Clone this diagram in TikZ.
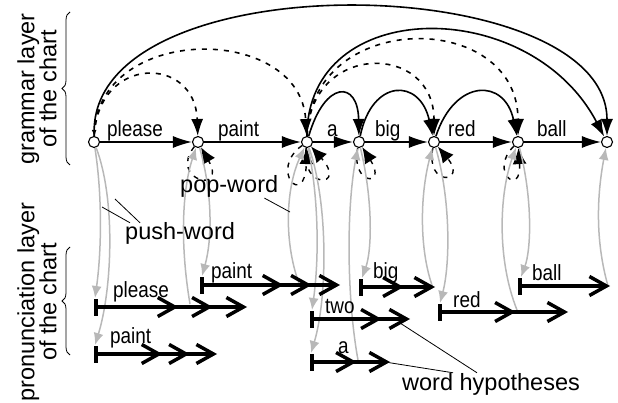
\documentclass[tikz,border=0pt]{standalone}
\usepackage{fontspec}
\setmainfont{Liberation Sans}
\newfontfamily\narrowsans[FakeStretch=0.86]{Liberation Sans}
\usetikzlibrary{arrows.meta, decorations.pathreplacing}
\usetikzlibrary{positioning}

\tikzset{chev/.tip={Straight Barb[length=17pt,width=19pt,line width=3.5pt]}}

\begin{document}
\begin{tikzpicture}[x=1pt, y=-1pt,
		gstate/.style={circle, draw, fill=white, line width=1.1pt, inner sep=0pt, minimum size=11pt},
		gedge/.style={line width=1.4pt, -{Latex[length=19pt,width=12pt]}},
		garc/.style={line width=1.6pt, -{Latex[length=17pt,width=12pt]}},
		garcd/.style={garc, dash pattern=on 5pt off 6pt},
		popword/.style={line width=1.4pt, dash pattern=on 5pt off 6pt, -{Latex[length=16pt,width=14pt]}},
		pushword/.style={black!28, line width=1.5pt, -{Latex[length=12pt,width=10pt]}},
		hypone/.style={line width=4pt, {Bar[width=17pt,line width=3.5pt]}-{chev}},
		hyptwo/.style={line width=4pt, {Bar[width=17pt,line width=3.5pt]}-{chev[sep=#1]chev}},
		hypthree/.style={line width=4pt, {Bar[width=17pt,line width=3.5pt]}-{chev[sep=#1]chev[sep=#1]chev}},
		wlabel/.style={font=\narrowsans\fontsize{22}{24}\selectfont, inner sep=0pt, anchor=base west},
		annot/.style={font=\fontsize{23.5}{22}\selectfont, inner sep=0pt},
		leader/.style={line width=0.8pt},
	]
	\useasboundingbox (0,0) rectangle (618,403);

	% grammar layer
	\node[gstate] (g1) at (94,142) {};
	\node[gstate] (g2) at (198,142) {};
	\node[gstate] (g3) at (307,142) {};
	\node[gstate] (g4) at (359,142) {};
	\node[gstate] (g5) at (434,142) {};
	\node[gstate] (g6) at (518,142) {};
	\node[gstate] (g7) at (607,142) {};

	\draw[gedge] (g1) -- (g2);
	\draw[gedge] (g2) -- (g3);
	\draw[gedge] (g3) -- (g4);
	\draw[gedge] (g4) -- (g5);
	\draw[gedge] (g5) -- (g6);
	\draw[gedge] (g6) -- (g7);
	\node[wlabel] (lplease) at (107,137) {please};
	\node[wlabel] (lpaint) at (218,137) {paint};
	\node[wlabel] (la) at (327,137) {a};
	\node[wlabel] (lbig) at (375,137) {big};
	\node[wlabel] (lred) at (448,137) {red};
	\node[wlabel] (lball) at (537,137) {ball};

	% arcs above
	\draw[line width=1.6pt, {Latex[length=6pt,width=5pt]}-{Latex[length=17pt,width=12pt]}] (g1) .. controls (96,-40) and (607,-30) .. (g7);
	\draw[garc] (g3) .. controls (307,-5) and (530,-5) .. (g7);
	\draw[garcd] (g1) .. controls (96,23) and (300,23) .. (g3);
	\draw[garcd] (g1) .. controls (98,55) and (195,55) .. (g2);
	\draw[garcd] (g3) .. controls (310,9) and (518,9) .. (g6);
	\draw[garcd] (g3) .. controls (310,42) and (434,42) .. (g5);
	\draw[garc] (g3) .. controls (325,80) and (358,80) .. (g4);
	\draw[garc] (g4) .. controls (372,78) and (420,78) .. (g5);
	\draw[garc] (g5) .. controls (455,78) and (505,78) .. (g6);

	% pop-word loops
	\draw[popword] (g2) .. controls (168,180) and (228,195) .. (g2);
	\draw[popword] (g3) .. controls (268,170) and (305,210) .. (g3);
	\draw[popword] (g3) .. controls (300,190) and (348,188) .. (g3);
	\draw[popword] (g4) .. controls (350,185) and (388,188) .. (g4);
	\draw[popword] (g5) .. controls (425,188) and (468,183) .. (g5);
	\draw[popword] (g6) .. controls (488,172) and (522,198) .. (g6);

	% grey push-word curves
	\draw[pushword] (g1) .. controls (103,200) and (101,255) .. (95,298);
	\draw[pushword] (g1) .. controls (116,200) and (112,290) .. (95,345);
	\draw[pushword] (190,304) .. controls (180,245) and (182,190) .. (g2);
	\draw[pushword] (g2) .. controls (213,195) and (212,240) .. (202,276);
	\draw[pushword] (300,286) .. controls (284,245) and (285,190) .. (g3);
	\draw[pushword] (g3) .. controls (319,200) and (319,260) .. (312,310);
	\draw[pushword] (g3) .. controls (329,205) and (327,300) .. (311,353);
	\draw[pushword] (358,360) .. controls (347,300) and (346,210) .. (g4);
	\draw[pushword] (g4) .. controls (373,200) and (372,250) .. (362,278);
	\draw[pushword] (433,288) .. controls (419,250) and (420,195) .. (g5);
	\draw[pushword] (g5) .. controls (451,200) and (450,265) .. (440,303);
	\draw[pushword] (517,310) .. controls (497,260) and (499,195) .. (g6);
	\draw[pushword] (g6) .. controls (533,200) and (531,250) .. (521,277);
	\draw[pushword] (608,286) .. controls (595,240) and (597,195) .. (g7);

	% pronunciation layer
	\draw[hypthree=12pt] (94,307) -- (247,307);
	\draw[hypthree=5pt] (94,354) -- (217,354);
	\draw[hypthree=6pt] (200,285) -- (340,285);
	\draw[hyptwo=9pt] (359,287) -- (435,287);
	\draw[hyptwo=6pt] (310,319) -- (410,319);
	\draw[hyptwo=11pt] (310,362) -- (390,362);
	\draw[hyptwo=30pt] (438,312) -- (568,312);
	\draw[hypone] (518,286) -- (610,286);
	\node[wlabel] (wplease) at (113,298) {please};
	\node[wlabel] (wpaint) at (110,343) {paint};
	\node[wlabel] (wpaintb) at (211,278) {paint};
	\node[wlabel] (wbig) at (373,278) {big};
	\node[wlabel] (wtwo) at (325,313) {two};
	\node[wlabel] (wa) at (338,353) {a};
	\node[wlabel] (wred) at (453,307) {red};
	\node[wlabel] (wball) at (532,280) {ball};

	% layer braces
	\draw[line width=0.8pt, decorate, decoration={brace, amplitude=8pt}] (70,165) -- (70,12);
	\draw[line width=0.8pt, decorate, decoration={brace, amplitude=8pt}] (70,355) -- (70,247);
	\node[annot, rotate=90, align=center] (lgram) at (37,89) {grammar layer\\of the chart};
	\node[annot, rotate=90, align=center] (lpron) at (37,302) {pronunciation layer\\of the chart};

	% annotations
	\node[annot, anchor=base west] (npush) at (125,240) {push-word};
	\node[annot, anchor=base west] (npop) at (180,193) {pop-word};
	\node[annot, anchor=base west] (nhyp) at (402,390) {word hypotheses};
	\coordinate (pw1) at (102,207);
	\coordinate (pw2) at (115,199);
	\coordinate (pp1) at (290,212);
	\coordinate (htwo) at (400,323);
	\coordinate (ha) at (385,362);
	\draw[leader] ([xshift=5pt]npush.north west) -- (pw1);
	\draw[leader] ([xshift=15pt]npush.north west) -- (pw2);
	\draw[leader] ([xshift=-14pt]npop.south east) -- (pp1);
	\draw[leader] (htwo) -- ([xshift=75pt]nhyp.north west);
	\draw[leader] (ha) -- ([xshift=51pt]nhyp.north west);
\end{tikzpicture}
\end{document}
